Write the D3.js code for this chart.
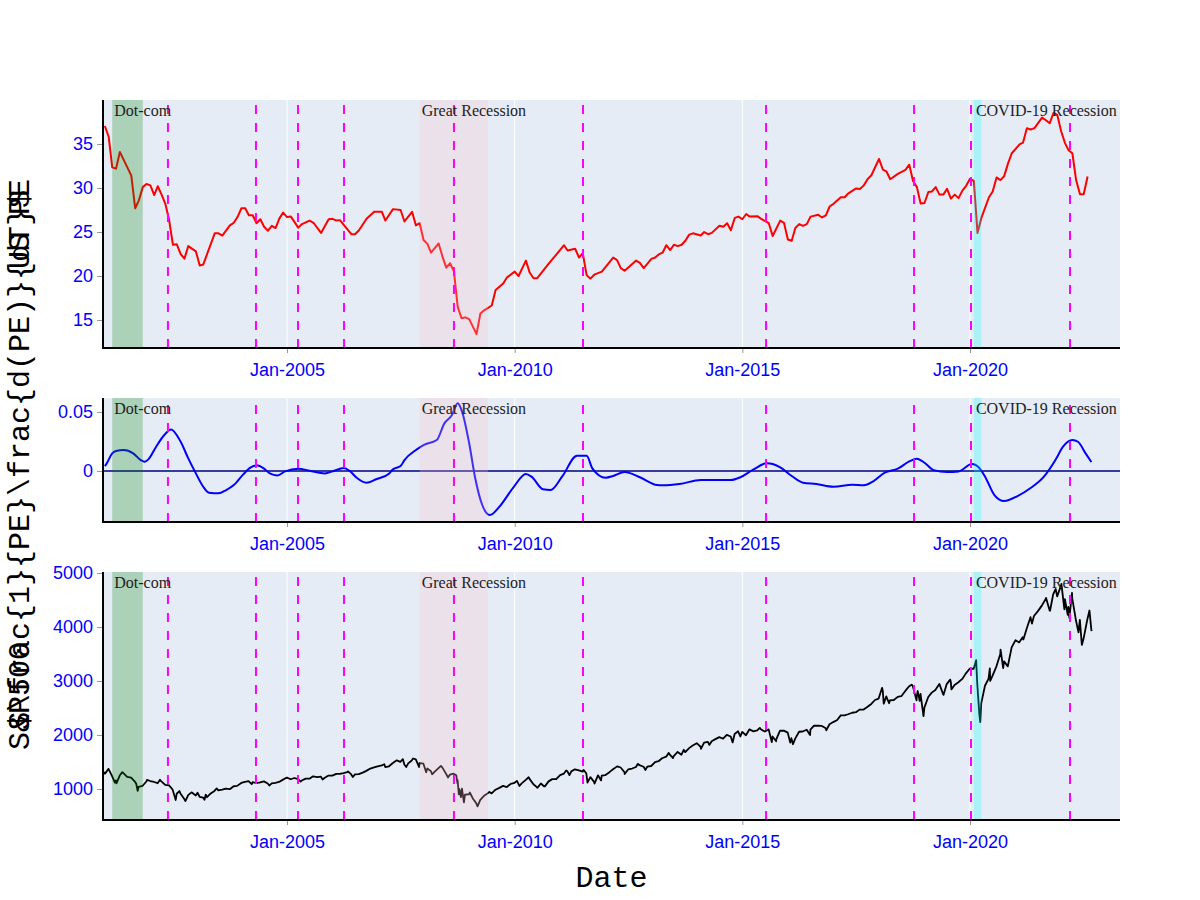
<!DOCTYPE html>
<html><head><meta charset="utf-8">
<script src="https://cdn.jsdelivr.net/npm/d3@7"></script>
<style>body{margin:0;background:#fff}svg{display:block}</style>
</head><body>
<svg id="chart" width="1200" height="900"></svg>
<script>
// ---------------- DATA ----------------
const peDates = ["2001-01","2001-02","2001-03","2001-04","2001-05","2001-08","2001-09","2001-10","2001-11","2001-12",
"2002-01","2002-02","2002-03","2002-04","2002-05","2002-06","2002-07","2002-08","2002-09","2002-10","2002-11",
"2003-01","2003-02","2003-03","2003-06","2003-07","2003-08","2003-10","2003-11","2003-12",
"2004-01","2004-02","2004-03","2004-04","2004-05","2004-06","2004-07","2004-08","2004-09","2004-10","2004-11","2004-12",
"2005-01","2005-02","2005-04","2005-05","2005-07","2005-08","2005-10","2005-12",
"2006-01","2006-02","2006-03","2006-04","2006-06","2006-07","2006-08","2006-10","2006-12",
"2007-02","2007-03","2007-05","2007-07","2007-08","2007-10","2007-11","2007-12",
"2008-01","2008-02","2008-03","2008-05","2008-06","2008-07","2008-08","2008-09","2008-10","2008-11","2008-12",
"2009-01","2009-03","2009-04","2009-05","2009-07","2009-08","2009-10","2009-11",
"2010-01","2010-02","2010-04","2010-05","2010-06","2010-07","2010-10",
"2011-02","2011-03","2011-05","2011-06","2011-07","2011-08","2011-09","2011-10","2011-12",
"2012-03","2012-04","2012-05","2012-06","2012-09","2012-10","2012-11","2012-12",
"2013-01","2013-02","2013-03","2013-04","2013-05","2013-06","2013-07","2013-08","2013-09","2013-10","2013-11","2013-12",
"2014-02","2014-03","2014-04","2014-05","2014-07","2014-08","2014-09","2014-10","2014-11","2014-12",
"2015-01","2015-02","2015-03","2015-05","2015-06","2015-08","2015-09","2015-11","2015-12",
"2016-01","2016-02","2016-03","2016-04","2016-05","2016-06","2016-07","2016-09","2016-10","2016-11","2016-12",
"2017-01","2017-03","2017-04","2017-05","2017-07","2017-08","2017-09","2017-10","2017-11",
"2018-01","2018-02","2018-03","2018-04","2018-06","2018-08","2018-09","2018-10","2018-11","2018-12",
"2019-01","2019-02","2019-03","2019-04","2019-05","2019-06","2019-07","2019-08","2019-09","2019-10","2019-11","2019-12",
"2020-01","2020-02","2020-03","2020-04","2020-06","2020-07","2020-08","2020-09","2020-10","2020-11","2020-12",
"2021-02","2021-03","2021-04","2021-05","2021-06","2021-08","2021-09","2021-10","2021-11","2021-12",
"2022-01","2022-02","2022-03","2022-04","2022-05","2022-06","2022-07","2022-08"];
const peValues = [37.05,35.8,32.35,32.2,34.1,31.4,27.7,28.6,30.1,30.45,
30.3,29.2,30.2,29.25,28.2,26.3,23.55,23.6,22.5,21.97,23.4,
22.8,21.2,21.3,24.85,24.85,24.6,25.75,26.05,26.7,
27.7,27.7,26.9,26.9,26.0,26.45,25.6,25.15,25.7,25.45,26.55,27.2,
26.7,26.75,25.5,25.9,26.3,26.05,24.9,26.45,
26.5,26.3,26.35,25.8,24.75,24.75,25.2,26.5,27.3,
27.3,26.3,27.6,27.5,26.2,27.3,25.75,26.0,
24.1,23.65,22.65,23.7,22.2,20.95,21.45,20.5,16.5,15.2,15.3,
15.1,13.4,15.75,16.1,16.65,18.4,19.15,19.85,
20.5,20.0,21.75,20.4,19.75,19.75,21.4,
23.5,22.9,23.1,22.1,22.6,20.1,19.7,20.15,20.5,
22.1,21.8,20.9,20.6,21.75,21.5,20.9,21.4,
21.95,22.1,22.45,22.65,23.5,22.95,23.55,23.4,23.55,24.0,24.7,24.85,
24.6,25.0,24.75,24.9,25.7,25.6,26.0,25.2,26.6,26.75,
26.45,27.05,26.75,26.8,26.5,26.0,24.55,26.3,26.05,
24.15,24.0,25.45,25.9,25.7,25.9,26.75,26.95,26.65,26.9,27.9,
28.2,28.95,28.95,29.4,29.95,29.9,30.3,31.0,31.45,
33.3,32.1,31.9,31.0,31.6,32.05,32.65,30.8,30.1,28.25,
28.3,29.55,29.6,30.1,29.25,29.25,29.9,28.8,29.25,28.85,29.7,30.25,
31.05,30.8,24.9,26.6,28.95,29.6,31.2,30.9,31.35,32.8,33.95,
34.95,35.15,36.8,36.65,36.8,38.0,37.7,37.35,38.55,38.3,
36.45,35.1,34.3,33.95,30.9,29.3,29.3,31.3];

const dDates = ["2001-01-01","2001-01-16","2001-03-01","2001-04-01","2001-06-01","2001-08-16","2001-10-16","2001-11-16","2001-12-16",
"2002-02-16","2002-04-16","2002-06-16","2002-09-01","2002-11-01","2003-01-01","2003-03-01","2003-04-16","2003-07-01","2003-09-01","2003-11-01",
"2004-01-16","2004-03-16","2004-05-01","2004-07-01","2004-08-16","2004-10-16","2004-12-16","2005-04-01","2005-07-01","2005-11-01",
"2006-01-01","2006-04-01","2006-05-16","2006-07-16","2006-10-01","2006-12-16","2007-04-01","2007-05-01","2007-07-01","2007-08-01","2007-11-01",
"2008-01-01","2008-04-16","2008-06-16","2008-08-16","2008-10-01","2008-11-01","2009-01-01","2009-02-16","2009-04-16","2009-06-16","2009-09-01","2009-12-16",
"2010-04-01","2010-05-16","2010-08-16","2010-10-16","2011-01-16","2011-05-16","2011-08-01","2011-09-16","2012-01-01","2012-03-01","2012-06-01","2012-10-01",
"2013-02-16","2013-04-01","2013-08-16","2014-02-01","2014-10-01","2014-12-16","2015-04-01","2015-07-16","2015-09-01","2015-11-01",
"2016-02-01","2016-05-01","2016-08-16","2017-01-01","2017-06-01","2017-09-01","2017-11-16","2018-02-16","2018-06-01","2018-09-01","2018-11-01",
"2019-01-01","2019-03-16","2019-07-01","2019-10-01","2020-01-16","2020-03-16","2020-05-01","2020-07-16","2020-10-01",
"2021-01-16","2021-05-01","2021-08-16","2021-11-16","2022-01-16","2022-04-01","2022-05-16","2022-07-16","2022-09-01"];
const dValues = [0.0042,0.0065,0.015,0.017,0.0178,0.015,0.0093,0.0079,0.0099,
0.0206,0.0297,0.0353,0.0248,0.0107,-0.002,-0.0133,-0.0184,-0.0189,-0.0161,-0.0119,
-0.0028,0.0031,0.0048,0.002,-0.002,-0.0037,-0.0003,0.002,0.0003,-0.002,
-0.0003,0.0025,0.0003,-0.0059,-0.0099,-0.007,-0.002,0.0014,0.0042,0.0093,0.0178,
0.022,0.0263,0.0404,0.0475,0.0574,0.0517,0.0235,-0.0048,-0.0288,-0.0373,-0.0302,-0.0147,
-0.0025,-0.0048,-0.0155,-0.0161,-0.0048,0.013,0.013,0.0023,-0.0057,-0.0042,-0.0008,-0.0053,
-0.0119,-0.0121,-0.011,-0.0076,-0.0076,-0.0053,0.0014,0.0065,0.0059,0.0031,
-0.0042,-0.0099,-0.011,-0.0133,-0.0116,-0.0121,-0.0087,-0.0014,0.002,0.0082,0.0104,
0.007,0.0008,-0.0008,-0.0003,0.0059,0.0025,-0.0048,-0.0206,-0.0254,
-0.0212,-0.0144,-0.0048,0.0093,0.0206,0.0263,0.0248,0.015,0.0076];

const spDates = ["2000-12-29","2001-01-02","2001-01-30","2001-02-28","2001-03-22","2001-03-30","2001-04-04","2001-04-30","2001-05-21","2001-06-29","2001-07-31","2001-08-31","2001-09-10","2001-09-21","2001-09-28","2001-10-31","2001-11-30","2001-12-05","2001-12-31",
"2002-01-31","2002-02-28","2002-03-19","2002-03-28","2002-04-30","2002-05-31","2002-06-28","2002-07-23","2002-07-31","2002-08-22","2002-08-30","2002-09-30","2002-10-09","2002-10-31","2002-11-27","2002-12-31",
"2003-01-14","2003-01-31","2003-02-28","2003-03-11","2003-03-21","2003-03-31","2003-04-30","2003-05-30","2003-06-17","2003-06-30","2003-07-31","2003-08-29","2003-09-30","2003-10-31","2003-11-28","2003-12-31",
"2004-01-30","2004-02-27","2004-03-24","2004-03-31","2004-04-30","2004-05-31","2004-06-30","2004-07-30","2004-08-12","2004-08-31","2004-09-30","2004-10-29","2004-11-30","2004-12-31",
"2005-01-31","2005-02-28","2005-03-31","2005-04-20","2005-04-29","2005-05-31","2005-06-30","2005-07-29","2005-08-31","2005-09-30","2005-10-13","2005-10-31","2005-11-30","2005-12-30",
"2006-01-31","2006-02-28","2006-03-31","2006-04-28","2006-05-05","2006-05-31","2006-06-13","2006-06-30","2006-07-31","2006-08-31","2006-09-29","2006-10-31","2006-11-30","2006-12-29",
"2007-01-31","2007-02-20","2007-02-28","2007-03-30","2007-04-30","2007-05-31","2007-06-29","2007-07-19","2007-07-31","2007-08-15","2007-08-31","2007-09-28","2007-10-09","2007-10-31","2007-11-26","2007-11-30","2007-12-31",
"2008-01-22","2008-01-31","2008-02-29","2008-03-10","2008-03-31","2008-04-30","2008-05-19","2008-05-30","2008-06-30","2008-07-15","2008-07-31","2008-08-29","2008-09-19","2008-09-29","2008-09-30","2008-10-10","2008-10-13","2008-10-27","2008-10-31","2008-11-04","2008-11-20","2008-11-28","2008-12-31",
"2009-01-06","2009-01-30","2009-02-27","2009-03-09","2009-03-31","2009-04-30","2009-05-29","2009-06-12","2009-06-30","2009-07-31","2009-08-31","2009-09-30","2009-10-30","2009-11-30","2009-12-31",
"2010-01-19","2010-02-08","2010-02-26","2010-03-31","2010-04-23","2010-04-30","2010-05-31","2010-06-30","2010-07-02","2010-07-30","2010-08-26","2010-08-31","2010-09-30","2010-10-29","2010-11-30","2010-12-31",
"2011-01-31","2011-02-18","2011-02-28","2011-03-16","2011-03-31","2011-04-29","2011-05-31","2011-06-30","2011-07-07","2011-07-29","2011-08-08","2011-08-31","2011-09-30","2011-10-03","2011-10-31","2011-11-25","2011-11-30","2011-12-30",
"2012-01-31","2012-02-29","2012-04-02","2012-04-30","2012-05-31","2012-06-01","2012-06-29","2012-07-31","2012-08-31","2012-09-14","2012-09-28","2012-10-31","2012-11-15","2012-11-30","2012-12-31",
"2013-01-31","2013-02-28","2013-03-28","2013-04-30","2013-05-21","2013-05-31","2013-06-24","2013-06-28","2013-07-31","2013-08-30","2013-09-18","2013-09-30","2013-10-31","2013-11-29","2013-12-31",
"2014-01-31","2014-02-03","2014-02-28","2014-03-31","2014-04-11","2014-04-30","2014-05-30","2014-06-30","2014-07-31","2014-08-29","2014-09-30","2014-10-15","2014-10-31","2014-11-28","2014-12-16","2014-12-31",
"2015-01-30","2015-02-27","2015-03-31","2015-04-30","2015-05-21","2015-05-29","2015-06-30","2015-07-31","2015-08-25","2015-08-31","2015-09-29","2015-09-30","2015-10-30","2015-11-30","2015-12-31",
"2016-01-20","2016-01-29","2016-02-11","2016-02-29","2016-03-31","2016-04-29","2016-05-31","2016-06-27","2016-06-30","2016-07-29","2016-08-31","2016-09-30","2016-10-31","2016-11-04","2016-11-30","2016-12-30",
"2017-01-31","2017-02-28","2017-03-31","2017-04-28","2017-05-31","2017-06-30","2017-07-31","2017-08-31","2017-09-29","2017-10-31","2017-11-30","2017-12-29",
"2018-01-26","2018-01-31","2018-02-08","2018-02-28","2018-03-23","2018-03-29","2018-04-30","2018-05-31","2018-06-29","2018-07-31","2018-08-31","2018-09-20","2018-09-28","2018-10-29","2018-10-31","2018-11-07","2018-11-23","2018-11-30","2018-12-24","2018-12-31",
"2019-01-31","2019-02-28","2019-03-29","2019-04-30","2019-05-31","2019-06-03","2019-06-28","2019-07-26","2019-07-31","2019-08-05","2019-08-30","2019-09-30","2019-10-31","2019-11-29","2019-12-31",
"2020-01-31","2020-02-19","2020-02-28","2020-03-16","2020-03-23","2020-03-31","2020-04-30","2020-05-29","2020-06-08","2020-06-11","2020-06-30","2020-07-31","2020-08-31","2020-09-02","2020-09-23","2020-09-30","2020-10-30","2020-11-30","2020-12-31",
"2021-01-29","2021-02-26","2021-03-04","2021-03-31","2021-04-30","2021-05-12","2021-05-28","2021-06-30","2021-07-30","2021-08-31","2021-09-02","2021-09-30","2021-10-04","2021-10-29","2021-11-18","2021-11-30","2021-12-31",
"2022-01-03","2022-01-27","2022-01-31","2022-02-23","2022-02-28","2022-03-08","2022-03-29","2022-03-31","2022-04-29","2022-05-20","2022-05-31","2022-06-16","2022-06-30","2022-07-29","2022-08-16","2022-08-31","2022-09-02"];
const spValues = [1320,1283,1373,1240,1117,1160,1103,1249,1312,1224,1211,1134,1092,966,1041,1060,1139,1170,1148,
1130,1107,1170,1147,1076,1067,990,797,912,962,916,815,777,886,938,880,
931,856,841,800,895,848,917,964,1011,975,990,1008,996,1051,1058,1112,
1131,1145,1091,1126,1107,1121,1141,1102,1064,1104,1115,1130,1174,1212,
1181,1204,1181,1138,1157,1192,1191,1234,1220,1229,1177,1207,1249,1248,
1280,1281,1295,1311,1325,1270,1223,1270,1277,1304,1336,1378,1401,1418,
1438,1459,1407,1421,1482,1531,1503,1553,1455,1406,1474,1527,1565,1549,1407,1481,1468,
1310,1379,1331,1273,1323,1386,1427,1400,1280,1214,1267,1283,1255,1106,1166,899,1003,848,969,1005,752,896,903,
935,826,735,677,798,873,919,946,919,987,1021,1057,1036,1096,1115,
1150,1056,1104,1169,1217,1187,1089,1031,1022,1102,1047,1049,1141,1183,1181,1258,
1286,1343,1327,1257,1326,1364,1345,1321,1353,1292,1119,1219,1131,1099,1253,1159,1247,1258,
1312,1366,1419,1398,1310,1278,1362,1379,1407,1466,1441,1412,1353,1416,1426,
1498,1515,1569,1598,1669,1631,1573,1606,1686,1633,1726,1682,1757,1806,1848,
1783,1742,1859,1872,1816,1884,1924,1960,1931,2003,1972,1862,2018,2068,1973,2059,
1995,2105,2068,2086,2131,2107,2063,2104,1868,1972,1884,1920,2079,2080,2044,
1859,1940,1829,1932,2060,2065,2097,2001,2099,2174,2171,2168,2126,2085,2199,2239,
2279,2364,2363,2384,2412,2423,2470,2472,2519,2575,2648,2674,
2873,2824,2581,2714,2588,2641,2648,2705,2718,2816,2902,2931,2914,2641,2712,2814,2633,2760,2351,2507,
2704,2784,2834,2946,2752,2744,2942,3026,2980,2845,2926,2977,3038,3141,3231,
3226,3386,2954,2386,2237,2585,2912,3044,3232,3002,3100,3271,3500,3580,3237,3363,3270,3622,3756,
3714,3811,3768,3973,4181,4063,4204,4298,4395,4523,4537,4308,4300,4605,4704,4567,4766,
4797,4326,4516,4225,4374,4170,4632,4530,4132,3901,4132,3667,3785,4130,4305,3955,3924];

const recessionNames = ["Dot-com","Great Recession","COVID-19 Recession"];
const recessionStarts = ["2001-03-01","2007-12-01","2020-02-01"];
const recessionEnds = ["2001-11-01","2009-06-01","2020-04-01"];
const recessionColors = ["green","pink","cyan"];
const eventDates = ["2002-05-22","2004-04-27","2005-03-30","2006-04-03","2008-09-01","2011-07-03","2015-07-10","2018-10-09","2020-01-09","2022-03-13"];
const xTickDates = ["2005-01-01","2010-01-01","2015-01-01","2020-01-01"];
const xRange = ["2000-12-17","2023-04-18"];
const peTicks = [15,20,25,30,35];
const dTicks = [0,0.05];
const spTicks = [1000,2000,3000,4000,5000];
const peRange = [11.82,40.0];
const dRange = [-0.0432,0.0619];
const spRange = [426,5018];
const yTitles = ["US PE","$\\frac{1}{PE}\\frac{d(PE)}{dT}$","S&P500"];
const xTitle = "Date";

// ---------------- DRAW ----------------
const parse = s => new Date((s.length === 7 ? s + "-01" : s) + "T00:00:00Z");
const svg = d3.select("#chart");
const L = 103, R = 1120;
const x = d3.scaleUtc().domain(xRange.map(parse)).range([L, R]);

const panels = [
  {top:100, bottom:348, domain:peRange, ticks:peTicks, dates:peDates, values:peValues, color:"#ff0000", curve:d3.curveLinear, width:2, title:yTitles[0]},
  {top:398, bottom:522, domain:dRange, ticks:dTicks, dates:dDates, values:dValues, color:"#0000ff", curve:d3.curveMonotoneX, width:2, title:yTitles[1], zero:true},
  {top:572, bottom:820, domain:spRange, ticks:spTicks, dates:spDates, values:spValues, color:"#000000", curve:d3.curveLinear, width:1.8, title:yTitles[2]}
];
const fmt = d3.format("~g");
const tickFont = "'Liberation Sans', Arial, sans-serif";
const monoFont = "'Liberation Mono', 'Courier New', monospace";
const serifFont = "'Liberation Serif', 'Times New Roman', serif";

panels.forEach((p, i) => {
  const y = d3.scaleLinear().domain(p.domain).range([p.bottom, p.top]);
  const g = svg.append("g");
  const clipId = "clip" + i;
  svg.append("clipPath").attr("id", clipId).append("rect")
    .attr("x", L).attr("y", p.top).attr("width", R - L).attr("height", p.bottom - p.top);
  g.append("rect").attr("x", L).attr("y", p.top).attr("width", R - L).attr("height", p.bottom - p.top).attr("fill", "#E5ECF6");
  // vertical grid
  g.selectAll(".grid").data(xTickDates.map(parse)).enter().append("line")
    .attr("x1", d => x(d)).attr("x2", d => x(d)).attr("y1", p.top).attr("y2", p.bottom)
    .attr("stroke", "#fff").attr("stroke-width", 1);
  const cg = g.append("g").attr("clip-path", `url(#${clipId})`);
  // zero line
  if (p.zero) {
    cg.append("line").attr("x1", L).attr("x2", R).attr("y1", y(0)).attr("y2", y(0))
      .attr("stroke", "#000080").attr("stroke-width", 1.5);
  }
  const pts = p.dates.map((d, k) => [parse(d), p.values[k]]);
  cg.append("path").datum(pts)
    .attr("d", d3.line().x(d => x(d[0])).y(d => y(d[1])).curve(p.curve))
    .attr("fill", "none").attr("stroke", p.color).attr("stroke-width", p.width).attr("stroke-linejoin", "round");
  // recession rects
  recessionStarts.forEach((s, k) => {
    cg.append("rect").attr("x", x(parse(s))).attr("y", p.top)
      .attr("width", x(parse(recessionEnds[k])) - x(parse(s))).attr("height", p.bottom - p.top)
      .attr("fill", recessionColors[k]).attr("fill-opacity", 0.25);
  });
  // event dashed lines
  eventDates.forEach(e => {
    cg.append("line").attr("x1", x(parse(e))).attr("x2", x(parse(e))).attr("y1", p.bottom).attr("y2", p.top)
      .attr("stroke", "#ff00ff").attr("stroke-width", 2).attr("stroke-dasharray", "9,9");
  });
  // annotations
  recessionStarts.forEach((s, k) => {
    g.append("text").attr("x", x(parse(s)) + 2).attr("y", p.top + 16)
      .attr("font-family", serifFont).attr("font-size", 16).attr("fill", "#222")
      .text(recessionNames[k]);
  });
  // axes
  const ya = g.append("g").attr("transform", `translate(${L},0)`)
    .call(d3.axisLeft(y).tickValues(p.ticks).tickFormat(fmt).tickSize(6).tickPadding(4));
  const xa = g.append("g").attr("transform", `translate(0,${p.bottom})`)
    .call(d3.axisBottom(x).tickValues(xTickDates.map(parse)).tickFormat(d3.utcFormat("%b-%Y")).tickSize(5).tickPadding(10));
  [ya, xa].forEach(a => {
    a.select(".domain").remove();
    a.selectAll(".tick line").attr("stroke", "#999");
    a.selectAll(".tick text").attr("fill", "#0000ff").attr("font-family", tickFont).attr("font-size", 18);
  });
  g.append("line").attr("x1", L).attr("x2", L).attr("y1", p.top).attr("y2", p.bottom + 1).attr("stroke", "#000").attr("stroke-width", 2);
  g.append("line").attr("x1", L - 1).attr("x2", R).attr("y1", p.bottom).attr("y2", p.bottom).attr("stroke", "#000").attr("stroke-width", 2);
  // y title
  svg.append("text").attr("transform", `translate(29,${(p.top + p.bottom) / 2}) rotate(-90)`)
    .attr("text-anchor", "middle").attr("font-family", monoFont).attr("font-size", 30).attr("fill", "#000")
    .text(p.title);
});

svg.append("text").attr("x", (L + R) / 2).attr("y", 887).attr("text-anchor", "middle")
  .attr("font-family", monoFont).attr("font-size", 30).attr("fill", "#000").text(xTitle);
</script>
</body></html>
